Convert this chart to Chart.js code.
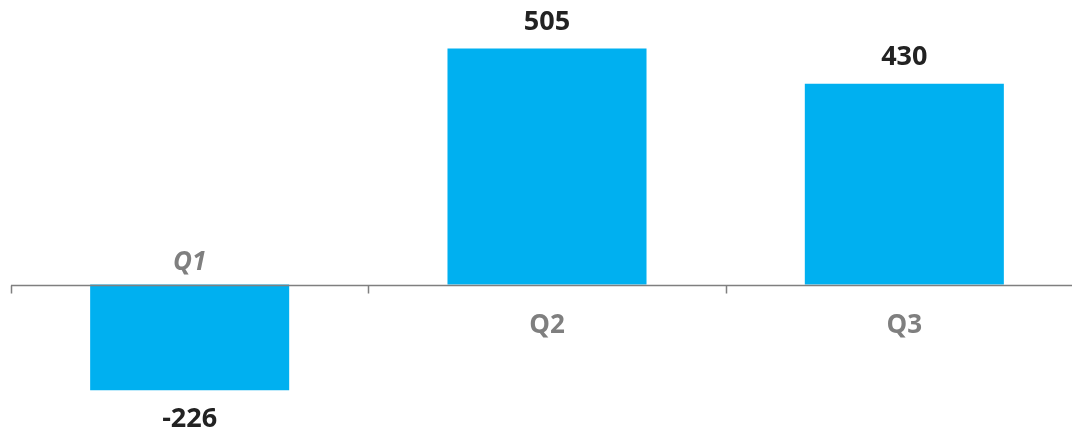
<!DOCTYPE html>
<html>
<head>
<meta charset="utf-8">
<script src="https://cdn.jsdelivr.net/npm/chart.js@4.4.1/dist/chart.umd.min.js"></script>
<style>
  html, body { margin: 0; padding: 0; background: #fff; overflow: hidden; }
  #wrap { position: relative; width: 1083px; height: 435px; }
</style>
</head>
<body>
<div id="wrap"><canvas id="quarters"></canvas></div>
<script>
// data
const categories = ["Q1", "Q2", "Q3"];
const values = [-226, 505, 430];

const barColor = "#00b0f0";
const axisColor = "#7f7f7f";
const fontFamily = "'Open Sans', 'DejaVu Sans', sans-serif";

// axis line at zero, tick marks, category + value labels
const labelsPlugin = {
    id: "labels",
    afterDatasetsDraw(chart) {
        const { ctx, chartArea, scales } = chart;
        const x = scales.x;
        const y = scales.y;
        const zero = Math.round(y.getPixelForValue(0)) + 0.5;
        const step = x.width / categories.length;

        ctx.save();
        ctx.strokeStyle = axisColor;
        ctx.lineWidth = 1.5;
        ctx.beginPath();
        ctx.moveTo(chartArea.left, zero);
        ctx.lineTo(chartArea.right, zero);
        for (let i = 0; i < categories.length; i++) {
            const tx = Math.round(x.left + i * step) + 0.5;
            ctx.moveTo(tx, zero);
            ctx.lineTo(tx, zero + 8);
        }
        ctx.stroke();

        ctx.textAlign = "center";
        ctx.textBaseline = "middle";
        const meta = chart.getDatasetMeta(0);
        meta.data.forEach((bar, i) => {
            const v = values[i];
            // value label
            ctx.fillStyle = "#222222";
            ctx.font = "bold 27px " + fontFamily;
            const vy = v >= 0 ? bar.y - 26 : bar.y + 29;
            ctx.fillText(String(v), bar.x, vy);
            // category label
            ctx.fillStyle = axisColor;
            if (v >= 0) {
                ctx.font = "bold 26px " + fontFamily;
                ctx.fillText(categories[i], bar.x, zero + 40);
            } else {
                ctx.font = "italic bold 26px " + fontFamily;
                ctx.fillText(categories[i], bar.x, zero - 23);
            }
        });
        ctx.restore();
    },
};

const ctx = document.getElementById("quarters").getContext("2d");
const chart = new Chart(ctx, {
    type: "bar",
    data: {
        labels: categories,
        datasets: [
            {
                data: values,
                backgroundColor: barColor,
                borderWidth: 0,
                barPercentage: 0.557,
                categoryPercentage: 1,
            },
        ],
    },
    options: {
        responsive: true,
        maintainAspectRatio: false,
        animation: false,
        layout: {
            padding: { left: 11, right: 0, top: 0, bottom: 0 },
        },
        scales: {
            x: { display: false },
            y: { display: false, min: -322, max: 609 },
        },
        plugins: {
            legend: { display: false },
            tooltip: { enabled: false },
        },
    },
    plugins: [labelsPlugin],
});
</script>
</body>
</html>
